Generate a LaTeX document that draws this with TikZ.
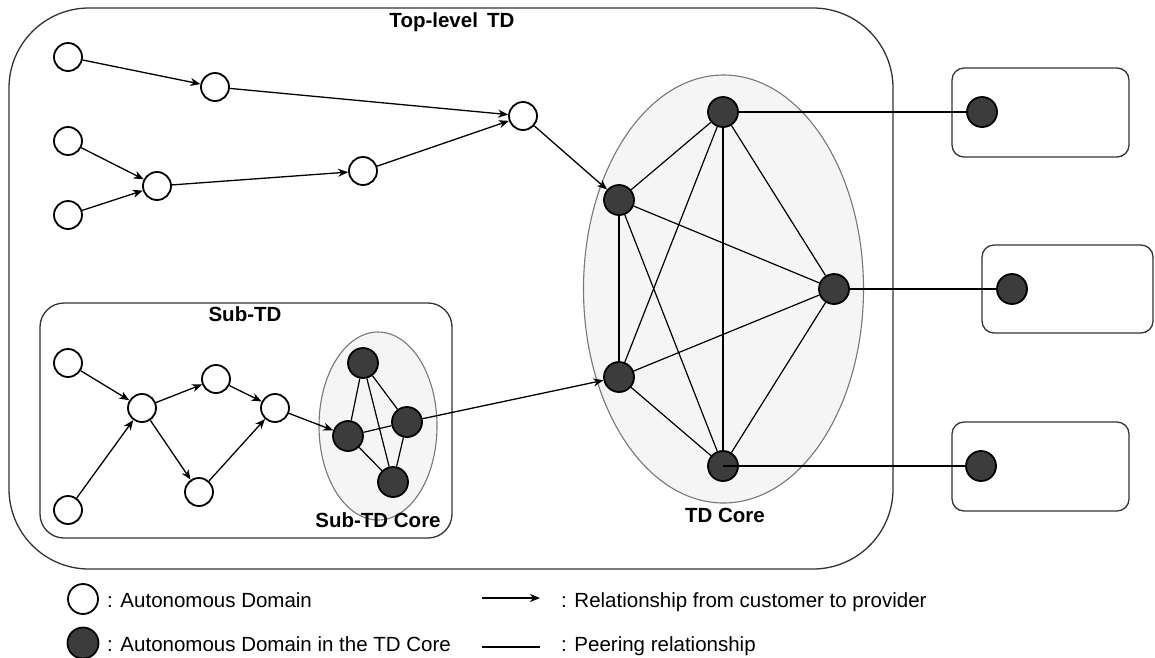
\documentclass[tikz,border=0pt]{standalone}
\usepackage{fontspec}
\setmainfont{Liberation Sans}
\usetikzlibrary{shapes.geometric,arrows.meta}
\definecolor{darknode}{HTML}{3C3C3C}
\definecolor{corefill}{HTML}{F5F5F5}
\definecolor{coreline}{HTML}{777777}
\definecolor{boxline}{HTML}{333333}
\tikzset{
  ad/.style={circle,draw=black,fill=white,line width=1.8pt,minimum size=28pt,inner sep=0pt},
  adcore/.style={circle,draw=black,fill=darknode,line width=1.8pt,minimum size=30pt,inner sep=0pt},
  domainbox/.style={draw=boxline,line width=1.3pt,fill=none,inner sep=0pt},
  coreell/.style={ellipse,draw=coreline,fill=corefill,line width=1.1pt,inner sep=0pt},
  cp/.style={line width=1.3pt,-{Stealth[length=10pt,width=8pt,inset=3pt]}},
  peer/.style={line width=1.2pt},
  boldlabel/.style={font=\bfseries\fontsize{20.5}{24}\selectfont,inner sep=0pt,anchor=base},
  legtext/.style={font=\fontsize{20.5}{24}\selectfont,inner sep=0pt,anchor=base west}
}
\begin{document}
\begin{tikzpicture}[x=1pt,y=-1pt]
\useasboundingbox (0,0) rectangle (1155,657);
% containers
\node[domainbox,rounded corners=80pt,minimum width=884pt,minimum height=561pt] (top) at (451,288.5) {};
\node[domainbox,rounded corners=24pt,minimum width=412pt,minimum height=235pt] (sub) at (246,420.5) {};
\node[domainbox,rounded corners=12pt,minimum width=177pt,minimum height=89pt] (box1) at (1040.5,112.5) {};
\node[domainbox,rounded corners=12pt,minimum width=171pt,minimum height=88pt] (box2) at (1067.5,289) {};
\node[domainbox,rounded corners=12pt,minimum width=177pt,minimum height=89pt] (box3) at (1040.5,466.5) {};
\node[coreell,minimum width=280pt,minimum height=428pt] (core) at (723.5,289) {};
\node[coreell,minimum width=118pt,minimum height=188pt] (subcore) at (378,426) {};
% labels
\node[boldlabel] (ltop) at (452,27) {Top-level\hspace{0.45em}TD};
\node[boldlabel] (lsub) at (245,321) {Sub-TD};
\node[boldlabel] (lsubcore) at (378,527) {Sub-TD Core};
\node[boldlabel] (lcore) at (725,522) {TD Core};
% top-level domains
\node[ad] (A1) at (68,57) {};
\node[ad] (A2) at (215,87) {};
\node[ad] (A3) at (68,141) {};
\node[ad] (A4) at (157,186) {};
\node[ad] (A5) at (68,215) {};
\node[ad] (A6) at (363,171) {};
\node[ad] (A7) at (523,116) {};
% core
\node[adcore] (C1) at (723,112) {};
\node[adcore] (C2) at (619,200) {};
\node[adcore] (C3) at (834,289) {};
\node[adcore] (C4) at (619,377) {};
\node[adcore] (C5) at (723,466) {};
% external
\node[adcore] (D1) at (982,112) {};
\node[adcore] (D2) at (1012,289) {};
\node[adcore] (D3) at (981,466) {};
% sub-TD
\node[ad] (S1) at (68,363) {};
\node[ad] (S2) at (142,408) {};
\node[ad] (S3) at (216,379) {};
\node[ad] (S4) at (275,408) {};
\node[ad] (S5) at (199,492) {};
\node[ad] (S6) at (68,510) {};
\node[adcore] (K1) at (363,363) {};
\node[adcore] (K2) at (407,422) {};
\node[adcore] (K3) at (348,436) {};
\node[adcore] (K4) at (393,482) {};
% customer-provider
\draw[cp] (A1) -- (A2);
\draw[cp] (A2) -- (A7);
\draw[cp] (A3) -- (A4);
\draw[cp] (A5) -- (A4);
\draw[cp] (A4) -- (A6);
\draw[cp] (A6) -- (A7);
\draw[cp] (A7) -- (C2);
\draw[cp] (S1) -- (S2);
\draw[cp] (S6) -- (S2);
\draw[cp] (S2) -- (S3);
\draw[cp] (S2) -- (S5);
\draw[cp] (S3) -- (S4);
\draw[cp] (S5) -- (S4);
\draw[cp] (S4) -- (K3);
\draw[cp] (K2) -- (C4);
% peering
\foreach \a/\b in {C1/C2,C1/C3,C1/C4,C1/C5,C2/C3,C2/C4,C2/C5,C3/C4,C3/C5,C4/C5,
                   K1/K2,K1/K3,K1/K4,K2/K3,K2/K4,K3/K4,C1/D1,C3/D2}
  \draw[peer] (\a) -- (\b);
\draw[peer] (C5.center) -- (D3);
% legend
\node[ad,minimum size=30pt] (L1) at (83,599) {};
\node[adcore,minimum size=31pt] (L2) at (83,643) {};
\node[legtext] (t1) at (107,607) {: Autonomous Domain};
\node[legtext] (t2) at (107,651) {: Autonomous Domain in the TD Core};
\coordinate (ar1) at (482,598);
\coordinate (ar2) at (540,598);
\coordinate (pe1) at (482,647);
\coordinate (pe2) at (540,647);
\draw[cp] (ar1) -- (ar2);
\draw[peer] (pe1) -- (pe2);
\node[legtext] (t3) at (561,607) {: Relationship from customer to provider};
\node[legtext] (t4) at (561,651) {: Peering relationship};
\end{tikzpicture}
\end{document}
